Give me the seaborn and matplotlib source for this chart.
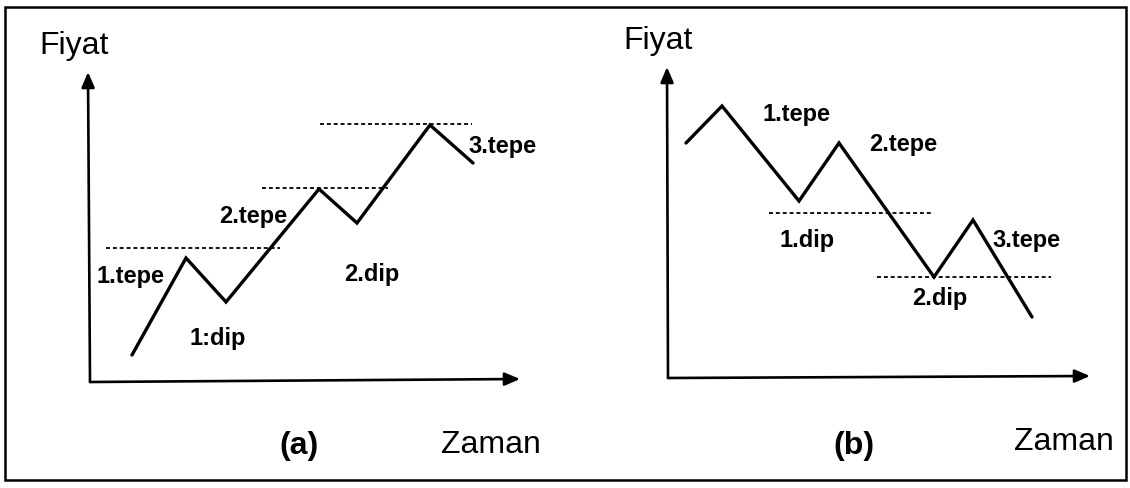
import matplotlib.pyplot as plt
import seaborn as sns
import pandas as pd
from matplotlib.patches import Rectangle

# --- Data (diagram coordinates, y grows downwards like the page) ---
# panel (a): rising trend, higher peaks / higher troughs
a_x = [132, 186, 226, 319, 357, 430, 473]
a_y = [355, 258, 302, 189, 223, 125, 163]
a_dash_y = [248, 188, 124]
a_dash_x0 = [106, 262, 320]
a_dash_x1 = [280, 388, 472]
a_labels = ['1.tepe', '1:dip', '2.tepe', '2.dip', '3.tepe']
a_label_x = [131, 218, 253, 372, 502]
a_label_y = [276, 338, 216, 274, 147]

# panel (b): falling trend
b_x = [686, 722, 799, 839, 934, 973, 1032]
b_y = [143, 106, 201, 143, 277, 220, 317]
b_dash_y = [213, 277]
b_dash_x0 = [769, 877]
b_dash_x1 = [932, 1051]
b_labels = ['1.tepe', '2.tepe', '1.dip', '2.dip', '3.tepe']
b_label_x = [797, 903, 807, 940, 1026]
b_label_y = [114, 144, 241, 299, 241]

# axes of each small diagram: origin, y tip, x tip
axis_origin = [(90, 382), (668, 378)]
axis_ytip = [(88, 72), (667, 67)]
axis_xtip = [(520, 379), (1090, 376)]
axis_title = ['Fiyat', 'Fiyat']
title_pos = [(74, 46), (658, 41)]
time_label = ['Zaman', 'Zaman']
time_pos = [(491, 445), (1064, 442)]
panel_tag = ['(a)', '(b)']
tag_pos = [(299, 446), (854, 446)]

# --- Setup ---
sns.set_theme(style='white')
plt.rcParams['font.family'] = ['Liberation Sans', 'DejaVu Sans']
plt.rcParams['text.color'] = 'black'

fig = plt.figure(figsize=(11.3, 4.88), dpi=100)
ax = fig.add_axes([0, 0, 1, 1])
ax.set_xlim(0, 1130)
ax.set_ylim(488, 0)
ax.axis('off')

# outer frame
ax.add_patch(Rectangle((5, 7), 1121, 473, fill=False, edgecolor='black', lw=1.8))

# --- Price paths ---
df_a = pd.DataFrame({'x': a_x, 'y': a_y})
df_b = pd.DataFrame({'x': b_x, 'y': b_y})
for df in (df_a, df_b):
    sns.lineplot(data=df, x='x', y='y', sort=False, ax=ax, color='black',
                 lw=2.4, solid_joinstyle='miter')

# dotted support / resistance levels
ax.hlines(a_dash_y, a_dash_x0, a_dash_x1, colors='black', lw=1.3,
          linestyles=(0, (2.2, 1.6)))
ax.hlines(b_dash_y, b_dash_x0, b_dash_x1, colors='black', lw=1.3,
          linestyles=(0, (2.2, 1.6)))

# --- Axes with arrows ---
arrow = dict(arrowstyle='-|>,head_length=0.7,head_width=0.3', color='black',
             lw=1.9, shrinkA=0, shrinkB=0, mutation_scale=13)
for o, yt, xt in zip(axis_origin, axis_ytip, axis_xtip):
    ax.annotate('', xy=yt, xytext=o, arrowprops=arrow)
    ax.annotate('', xy=xt, xytext=o, arrowprops=arrow)

# --- Texts ---
for lab, x, y in zip(a_labels + b_labels, a_label_x + b_label_x, a_label_y + b_label_y):
    ax.text(x, y, lab, ha='center', va='center', fontsize=17, fontweight='bold',
            color='black')

for t, (x, y) in zip(axis_title, title_pos):
    ax.text(x, y, t, ha='center', va='center', fontsize=23, color='black')
for t, (x, y) in zip(time_label, time_pos):
    ax.text(x, y, t, ha='center', va='center', fontsize=23, color='black')
for t, (x, y) in zip(panel_tag, tag_pos):
    ax.text(x, y, t, ha='center', va='center', fontsize=23, fontweight='bold',
            color='black')

fig.savefig('out.png', dpi=100)
